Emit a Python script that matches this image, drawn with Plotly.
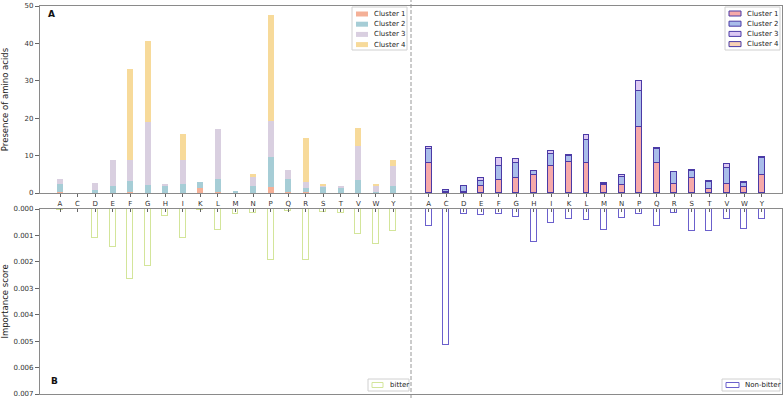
import plotly.graph_objects as go

aa = ["A","C","D","E","F","G","H","I","K","L","M","N","P","Q","R","S","T","V","W","Y"]

# Panel A, left group (bitter) - stacked cluster counts
bit_c1 = [0.3,0.0,0.1,0.1,0.2,0.1,0.0,0.1,1.3,0.2,0.0,0.0,1.7,0.3,0.2,0.0,0.0,0.1,0.0,0.1]
bit_c2 = [2.0,0.0,0.6,1.7,3.0,2.1,1.8,2.4,1.6,3.5,0.35,1.9,7.9,3.4,1.1,1.8,1.4,3.4,0.2,1.7]
bit_c3 = [1.4,0.0,2.1,7.1,5.6,16.7,0.6,6.4,0.0,13.4,0.0,2.6,9.7,2.4,1.6,0.2,0.3,9.0,1.8,5.4]
bit_c4 = [0.0,0.0,0.0,0.0,24.3,21.7,0.0,6.9,0.0,0.0,0.0,0.5,28.3,0.0,11.7,0.2,0.0,4.8,0.4,1.7]

# Panel A, right group (non-bitter)
nb_c1 = [7.9,0.3,0.2,1.9,3.4,3.9,4.7,7.2,8.2,7.9,2.1,2.1,17.6,8.0,2.4,3.9,1.2,2.5,1.6,4.7]
nb_c2 = [3.9,0.4,1.6,1.3,3.9,4.1,1.1,3.3,1.7,6.4,0.3,2.3,9.8,3.7,3.2,2.0,1.7,4.3,1.0,4.7]
nb_c3 = [0.4,0.1,0.1,0.8,2.0,1.1,0.0,0.8,0.2,1.3,0.2,0.4,2.6,0.3,0.1,0.2,0.3,1.0,0.3,0.3]
nb_c4 = [0.0]*20

# Panel B importance scores
imp_bitter = [0.00005,0.0,0.00111,0.00142,0.00266,0.00216,0.00028,0.00111,0.00004,0.00080,
              0.00018,0.00014,0.00194,0.00006,0.00194,0.00013,0.00016,0.00094,0.00134,0.00082]
imp_nonbitter = [0.00065,0.00515,0.00019,0.00023,0.00019,0.00030,0.00125,0.00053,0.00038,0.00043,
                 0.00080,0.00034,0.00018,0.00065,0.00015,0.00082,0.00082,0.00038,0.00075,0.00038]

cluster_names = ["Cluster 1","Cluster 2","Cluster 3","Cluster 4"]
left_cols = ["#f4b097","#a6cdd6","#d9cfe0","#f7da9a"]
right_cols = ["#f6a9a9","#a9bdea","#dcc8f2","#f8d2b5"]
edge = "#4b3aa6"
bitter_col = "#d3e59a"
nonbitter_col = "#6b60cc"

xl = list(range(0, 20))
xr = list(range(21, 41))
W = 0.34
FONT = "DejaVu Sans"

ML, MR, MT, MB = 40, 2, 6, 4
FW, FH = 784, 398
PW, PH = FW - ML - MR, FH - MT - MB

def px(x):
    return (x - ML) / PW

def py(y):
    return (FH - MB - y) / PH

fig = go.Figure()
for name, vals, col in zip(cluster_names, [bit_c1, bit_c2, bit_c3, bit_c4], left_cols):
    fig.add_trace(go.Bar(x=xl, y=vals, width=W, name=name, marker=dict(color=col, line=dict(width=0)),
                         xaxis="x", yaxis="y", showlegend=False))
for name, vals, col in zip(cluster_names, [nb_c1, nb_c2, nb_c3, nb_c4], right_cols):
    fig.add_trace(go.Bar(x=xr, y=vals, width=W, name=name, marker=dict(color=col, line=dict(width=1, color=edge)),
                         xaxis="x", yaxis="y", showlegend=False))

fig.add_trace(go.Bar(x=xl, y=imp_bitter, width=W, name="bitter",
                     marker=dict(color="rgba(0,0,0,0)", line=dict(width=1, color=bitter_col)),
                     xaxis="x2", yaxis="y2", showlegend=False))
fig.add_trace(go.Bar(x=xr, y=imp_nonbitter, width=W, name="Non-bitter",
                     marker=dict(color="rgba(0,0,0,0)", line=dict(width=1, color=nonbitter_col)),
                     xaxis="x2", yaxis="y2", showlegend=False))

tickvals = xl + xr
ticktext = aa + aa
xr_range = [-1.14, 41.14]
axis_common = dict(showgrid=False, zeroline=False, showline=True, linecolor="#8a8a8a", linewidth=1.2,
                   mirror=True, tickfont=dict(size=7, color="#333", family=FONT), ticks="outside",
                   ticklen=4, tickcolor="#666", automargin=False, ticklabeloverflow="allow")

fig.update_layout(
    width=FW, height=FH,
    margin=dict(l=ML, r=MR, t=MT, b=MB),
    paper_bgcolor="white", plot_bgcolor="white",
    barmode="stack", bargap=0,
    font=dict(family=FONT, size=7, color="#333"),
    showlegend=False,
    xaxis=dict(axis_common, domain=[0, 1], range=xr_range, tickvals=tickvals, ticktext=ticktext,
               anchor="y", ticklen=3),
    yaxis=dict(axis_common, domain=[py(193), 1], range=[0, 50], tickvals=[0,10,20,30,40,50],
               title=dict(text="Presence of amino acids", font=dict(size=8.5, family=FONT, color="#222"), standoff=16),
               anchor="x"),
    xaxis2=dict(axis_common, domain=[0, 1], range=xr_range, tickvals=tickvals, showticklabels=False,
                side="top", anchor="y2", matches="x", ticks="inside", ticklen=3),
    yaxis2=dict(axis_common, domain=[0, py(209)], range=[0.007, 0],
                tickvals=[0,0.001,0.002,0.003,0.004,0.005,0.006,0.007], tickformat=".3f",
                title=dict(text="Importance score", font=dict(size=8.5, family=FONT, color="#222"), standoff=6),
                anchor="x2"),
)

# dashed separator between bitter / non-bitter groups
fig.add_shape(type="line", xref="x", yref="paper", x0=20, x1=20, y0=py(FH), y1=py(0),
              line=dict(color="#8c8c8c", width=0.9, dash="4px,2px"))

fig.add_annotation(text="<b>A</b>", xref="paper", yref="paper", x=px(46), y=py(14),
                   showarrow=False, xanchor="left", yanchor="middle", font=dict(size=9, family=FONT, color="#111"))
fig.add_annotation(text="<b>B</b>", xref="paper", yref="paper", x=px(49), y=py(381),
                   showarrow=False, xanchor="left", yanchor="middle", font=dict(size=9, family=FONT, color="#111"))

# legends (matplotlib-style boxes)
def legend_box(x0, y0, x1, y1):
    fig.add_shape(type="rect", xref="paper", yref="paper", x0=px(x0), x1=px(x1), y0=py(y1), y1=py(y0),
                  line=dict(color="#d0d0d0", width=1), fillcolor="rgba(255,255,255,0.85)", layer="above")

def legend_item(label, ycen, p0, p1, ptxt, fill, line_col, line_w, ph=5):
    fig.add_shape(type="rect", xref="paper", yref="paper", x0=px(p0), x1=px(p1),
                  y0=py(ycen + ph / 2), y1=py(ycen - ph / 2),
                  fillcolor=fill, line=dict(color=line_col, width=line_w), layer="above")
    fig.add_annotation(text=label, xref="paper", yref="paper", x=px(ptxt), y=py(ycen),
                       showarrow=False, xanchor="left", yanchor="middle",
                       font=dict(size=7, family=FONT, color="#222"))

legend_box(352, 7, 407, 50)
for i, (n, c) in enumerate(zip(cluster_names, left_cols)):
    legend_item(n, 14 + 10.2 * i, 356, 368, 372, c, c, 0)

legend_box(725, 7, 780, 50)
for i, (n, c) in enumerate(zip(cluster_names, right_cols)):
    legend_item(n, 13.5 + 10.2 * i, 729, 741, 745, c, edge, 1)

legend_box(368, 379, 409, 391)
legend_item("bitter", 385, 372, 383, 388, "rgba(0,0,0,0)", bitter_col, 1)

legend_box(722, 379, 780, 391)
legend_item("Non-bitter", 385, 726, 739, 743, "rgba(0,0,0,0)", nonbitter_col, 1)

fig.write_html("out.html", config={"displayModeBar": False},
               post_script="document.body.style.margin='0';document.body.style.overflow='hidden';")
